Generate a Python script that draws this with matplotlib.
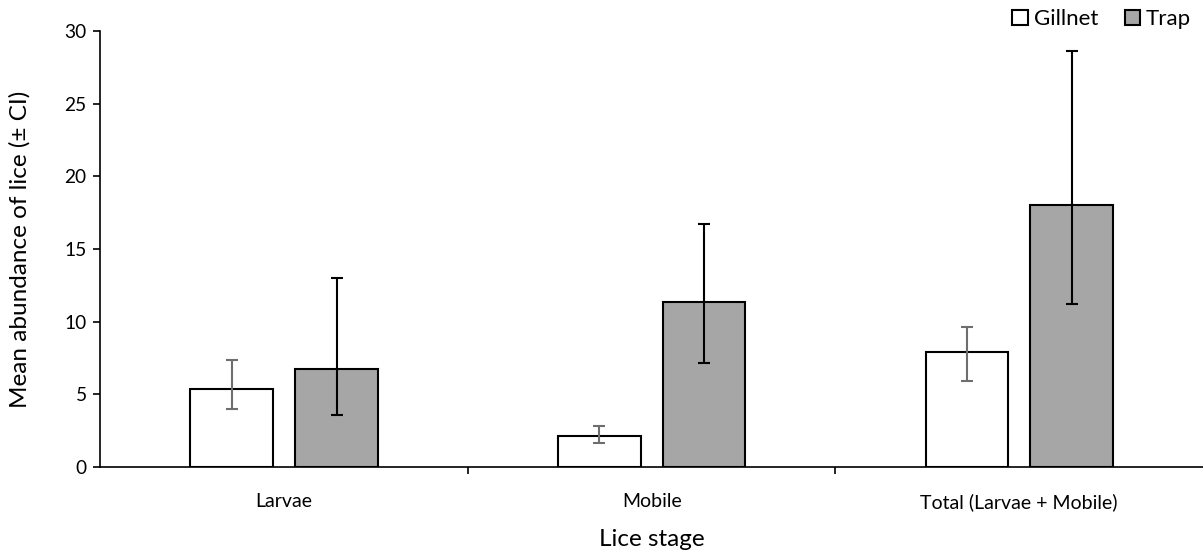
import numpy as np
import matplotlib.pyplot as plt

plt.rcParams['font.family'] = ['Lato', 'DejaVu Sans']

stages = ['Larvae', 'Mobile', 'Total (Larvae + Mobile)']
gillnet = [5.35, 2.13, 7.9]
gillnet_lo = [3.97, 1.63, 5.9]
gillnet_hi = [7.34, 2.8, 9.62]
trap = [6.72, 11.33, 18.05]
trap_lo = [3.6, 7.18, 11.22]
trap_hi = [13.03, 16.72, 28.65]

fig = plt.figure(figsize=(12.03, 5.5), dpi=100)
ax = fig.add_axes([0.0835, 0.151, 0.9165, 0.7927])

x = np.arange(len(stages))
w = 0.225
off = 0.1425

g = np.array(gillnet)
t = np.array(trap)
ax.bar(x - off, g, w, color='white', edgecolor='black', linewidth=1.5, label='Gillnet', zorder=2)
ax.bar(x + off, t, w, color='#a6a6a6', edgecolor='black', linewidth=1.5, label='Trap', zorder=2)

ax.errorbar(x - off, g, yerr=[g - np.array(gillnet_lo), np.array(gillnet_hi) - g],
            fmt='none', ecolor='#6e6e6e', elinewidth=1.5, capsize=4.3, capthick=1.5, zorder=3)
ax.errorbar(x + off, t, yerr=[t - np.array(trap_lo), np.array(trap_hi) - t],
            fmt='none', ecolor='black', elinewidth=1.5, capsize=4.3, capthick=1.5, zorder=3)

ax.set_xlim(-0.5, 2.5)
ax.set_ylim(0, 30)
ax.set_yticks(range(0, 31, 5))
ax.set_xticks([0.5, 1.5], minor=False)
ax.set_xticklabels([])
ax.set_xticks(x, minor=True)
ax.set_xticklabels(stages, minor=True)
ax.tick_params(axis='x', which='major', length=5, width=1.2, direction='out')
ax.tick_params(axis='x', which='minor', length=0, pad=19, labelsize=14)
ax.tick_params(axis='y', length=5, width=1.2, direction='out', labelsize=13.8, pad=5)

for s in ['top', 'right']:
    ax.spines[s].set_visible(False)
for s in ['left', 'bottom']:
    ax.spines[s].set_linewidth(1.2)

ax.set_xlabel('Lice stage', fontsize=17.5, labelpad=13)
ax.set_ylabel('Mean abundance of lice (\u00b1 CI)', fontsize=17.5, labelpad=24)

ax.legend(loc='upper right', bbox_to_anchor=(0.997, 1.07), ncol=2, frameon=False,
          fontsize=16, handlelength=0.7, handleheight=0.7, handletextpad=0.25,
          columnspacing=1.2, borderaxespad=0)

fig.savefig('out.png', dpi=100)
